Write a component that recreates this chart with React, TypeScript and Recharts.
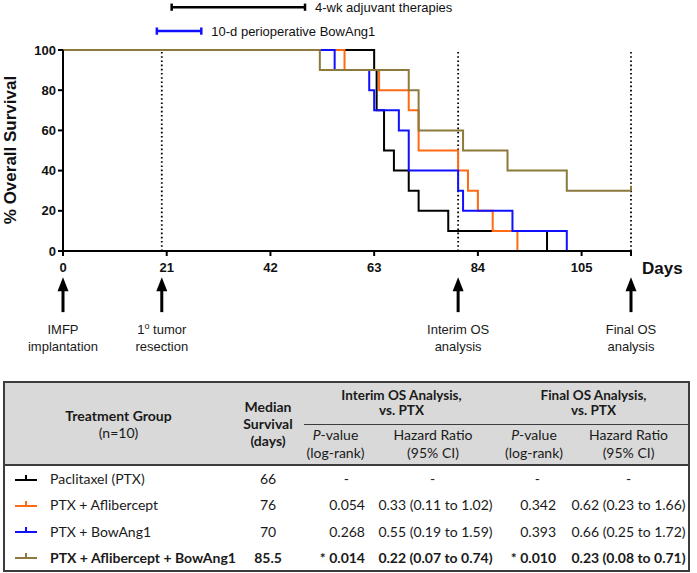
import { LineChart, Line, XAxis, YAxis, ReferenceLine, ReferenceDot } from "recharts";

// Kaplan-Meier steps (day, % surviving)
const PTX_DAYS = [0, 63, 63.5, 65, 67, 70, 72, 78, 98];
const PTX_SURV = [100, 90, 70, 50, 40, 30, 20, 10, 0];
const AFL_DAYS = [0, 57, 64, 70, 72, 80, 82, 84, 87, 92];
const AFL_SURV = [100, 90, 80, 70, 50, 40, 30, 20, 10, 0];
const BOW_DAYS = [0, 55, 62, 63, 68, 70, 80, 81, 91, 102];
const BOW_SURV = [100, 90, 80, 70, 60, 40, 30, 20, 10, 0];
const COMBO_DAYS = [0, 52, 70, 72, 81, 90, 102, 115];
const COMBO_SURV = [100, 90, 80, 60, 50, 40, 30, 30];

const X_TICKS = [0, 21, 42, 63, 84, 105, 115];
const Y_TICKS = [0, 20, 40, 60, 80, 100];

const DOTTED_DAYS = [20, 80, 115];
const EVENT_DAYS = [0, 20, 80, 115];
const EVENT_LABELS = [
  ["IMFP", "implantation"],
  ["1^o tumor", "resection"],
  ["Interim OS", "analysis"],
  ["Final OS", "analysis"],
];

const ADJUVANT = [22, 49];
const PERIOP = [19, 28];

// table
const GROUPS = ["Paclitaxel (PTX)", "PTX + Aflibercept", "PTX + BowAng1", "PTX + Aflibercept + BowAng1"];
const MEDIANS = ["66", "76", "70", "85.5"];
const INTERIM_P = ["-", "0.054", "0.268", "* 0.014"];
const INTERIM_HR = ["-", "0.33 (0.11 to 1.02)", "0.55 (0.19 to 1.59)", "0.22 (0.07 to 0.74)"];
const FINAL_P = ["-", "0.342", "0.393", "* 0.010"];
const FINAL_HR = ["-", "0.62 (0.23 to 1.66)", "0.66 (0.25 to 1.72)", "0.23 (0.08 to 0.71)"];

const COLORS = ["#000000", "#FF6A13", "#1010FF", "#8C7A3C"];

const AXIS_FONT = "'Liberation Sans', Arial, sans-serif";
const TABLE_FONT = "Lato, 'Open Sans', sans-serif";

const toRows = (days: number[], surv: number[]) => days.map((day, i) => ({ day, s: surv[i] }));

const SERIES = [
  { name: "ptx", data: toRows(PTX_DAYS, PTX_SURV) },
  { name: "afl", data: toRows(AFL_DAYS, AFL_SURV) },
  { name: "bow", data: toRows(BOW_DAYS, BOW_SURV) },
  { name: "combo", data: toRows(COMBO_DAYS, COMBO_SURV) },
];

function LabelLine({ x, y, text }: { x: number; y: number; text: string }) {
  if (text.includes("^o")) {
    const [a, b] = text.split("^o");
    return (
      <text x={x} y={y} textAnchor="middle" fontSize={13} fill="#1a1a1a" fontFamily={AXIS_FONT}>
        {a}
        <tspan fontSize={9} dy={-5}>o</tspan>
        <tspan dy={5}>{b}</tspan>
      </text>
    );
  }
  return (
    <text x={x} y={y} textAnchor="middle" fontSize={13} fill="#1a1a1a" fontFamily={AXIS_FONT}>
      {text}
    </text>
  );
}

function eventShape(lines: string[]) {
  return (props: any) => {
    const { cx, cy } = props;
    return (
      <g>
        <polygon points={`${cx},${cy} ${cx - 5.5},${cy + 14} ${cx + 5.5},${cy + 14}`} fill="#000" />
        <rect x={cx - 1.5} y={cy + 12} width={3} height={23} fill="#000" />
        <LabelLine x={cx} y={cy + 57} text={lines[0]} />
        <LabelLine x={cx} y={cy + 74} text={lines[1]} />
      </g>
    );
  };
}

function censorDot(color: string, lastIndex: number) {
  return (props: any) => {
    const { cx, cy, index } = props;
    if (index !== lastIndex) return <g key={`d${index}`} />;
    return <line key={`d${index}`} x1={cx} x2={cx} y1={cy - 5} y2={cy} stroke={color} strokeWidth={2} />;
  };
}

function YLabel() {
  return (
    <text
      transform="translate(16,150) rotate(-90)"
      textAnchor="middle"
      fontSize={17}
      fontWeight="bold"
      fill="#111"
      fontFamily={AXIS_FONT}
    >
      % Overall Survival
    </text>
  );
}

function XLabel() {
  return (
    <text x={642} y={274} fontSize={17} fontWeight="bold" fill="#111" fontFamily={AXIS_FONT}>
      Days
    </text>
  );
}

function LegendIcon({ color }: { color: string }) {
  return (
    <svg width={24} height={10} style={{ position: "absolute", left: 10, top: "50%", marginTop: -6 }}>
      <line x1={0} x2={22} y1={7} y2={7} stroke={color} strokeWidth={2} />
      <line x1={11} x2={11} y1={2} y2={7} stroke={color} strokeWidth={2} />
    </svg>
  );
}

const border = "2px solid #3c3c3c";

export default function App() {
  const topBars = [
    { range: ADJUVANT, y: 121.3, color: "#000", text: "4-wk adjuvant therapies" },
    { range: PERIOP, y: 109.4, color: "#1010FF", text: "10-d perioperative BowAng1" },
  ];
  return (
    <div style={{ position: "relative", width: 697, height: 573, background: "#fff" }}>
      <style>{`body{margin:0}`}</style>
      <LineChart
        width={697}
        height={375}
        margin={{ top: 50, right: 66, left: 13, bottom: 94 }}
        style={{ fontFamily: AXIS_FONT }}
      >
        <XAxis
          type="number"
          dataKey="day"
          domain={[0, 115]}
          ticks={X_TICKS}
          tickFormatter={(v) => (v === 115 ? "" : String(v))}
          height={30}
          tickSize={5}
          tickMargin={7}
          axisLine={{ stroke: "#000", strokeWidth: 2 }}
          tickLine={{ stroke: "#000", strokeWidth: 2 }}
          tick={{ fill: "#111", fontSize: 13, fontWeight: "bold", fontFamily: AXIS_FONT }}
          label={<XLabel />}
        />
        <YAxis
          type="number"
          domain={[0, 100]}
          ticks={Y_TICKS}
          width={50}
          tickSize={5}
          tickMargin={2}
          axisLine={{ stroke: "#000", strokeWidth: 2 }}
          tickLine={{ stroke: "#000", strokeWidth: 2 }}
          tick={{ fill: "#111", fontSize: 13, fontWeight: "bold", fontFamily: AXIS_FONT }}
          label={<YLabel />}
        />
        {DOTTED_DAYS.map((d) => (
          <ReferenceLine key={`v${d}`} x={d} stroke="#000" strokeWidth={1.8} strokeDasharray="1.6 2.6" />
        ))}
        {SERIES.map((s, i) => (
          <Line
            key={s.name}
            data={s.data}
            dataKey="s"
            type="stepAfter"
            stroke={COLORS[i]}
            strokeWidth={2}
            dot={censorDot(COLORS[i], s.data[s.data.length - 1].s > 0 ? s.data.length - 1 : -1)}
            activeDot={false}
            isAnimationActive={false}
          />
        ))}
        {topBars.map((b) => [
          <ReferenceLine
            key={`${b.text}-bar`}
            ifOverflow="visible"
            segment={[{ x: b.range[0], y: b.y }, { x: b.range[1], y: b.y }]}
            stroke={b.color}
            strokeWidth={2.5}
            label={{ value: b.text, position: "right", offset: 10, fill: "#111", fontSize: 13, fontFamily: AXIS_FONT }}
          />,
          ...b.range.map((d) => (
            <ReferenceLine
              key={`${b.text}-cap${d}`}
              ifOverflow="visible"
              segment={[{ x: d, y: b.y - 1.8 }, { x: d, y: b.y + 1.8 }]}
              stroke={b.color}
              strokeWidth={2.5}
            />
          )),
        ])}
        {EVENT_DAYS.map((d, i) => (
          <ReferenceDot key={`e${d}`} x={d} y={-13} ifOverflow="visible" shape={eventShape(EVENT_LABELS[i])} />
        ))}
      </LineChart>

      <div
        style={{
          position: "absolute",
          left: 3,
          top: 381,
          width: 685,
          fontFamily: TABLE_FONT,
          fontSize: 13.5,
          color: "#1a1a1a",
        }}
      >
        <table
          style={{
            borderCollapse: "collapse",
            tableLayout: "fixed",
            width: 685,
            border,
          }}
        >
          <colgroup>
            <col style={{ width: 228 }} />
            <col style={{ width: 72 }} />
            <col style={{ width: 63 }} />
            <col style={{ width: 132 }} />
            <col style={{ width: 70 }} />
            <col style={{ width: 120 }} />
          </colgroup>
          <thead style={{ background: "#D9D9D9" }}>
            <tr style={{ height: 42 }}>
              <th rowSpan={2} style={{ borderBottom: border, textAlign: "center", padding: 0, lineHeight: "17px", fontSize: 14 }}>
                Treatment Group
                <br />
                <span style={{ fontWeight: "normal" }}>(n=10)</span>
              </th>
              <th rowSpan={2} style={{ borderBottom: border, textAlign: "center", padding: 0, lineHeight: "17px", fontSize: 14 }}>
                Median
                <br />
                Survival
                <br />
                (days)
              </th>
              <th colSpan={2} style={{ borderBottom: "1.5px solid #3c3c3c", padding: 0, lineHeight: "15px" }}>
                Interim OS Analysis,
                <br />
                vs. PTX
              </th>
              <th colSpan={2} style={{ borderBottom: "1.5px solid #3c3c3c", padding: 0, lineHeight: "15px" }}>
                Final OS Analysis,
                <br />
                vs. PTX
              </th>
            </tr>
            <tr style={{ height: 41 }}>
              {["p", "hr", "p", "hr"].map((k, i) => (
                <th key={i} style={{ borderBottom: border, fontWeight: "normal", padding: 0, lineHeight: "18px", fontSize: 14 }}>
                  {k === "p" ? (
                    <>
                      <i>P</i>-value
                      <br />
                      (log-rank)
                    </>
                  ) : (
                    <>
                      Hazard Ratio
                      <br />
                      (95% CI)
                    </>
                  )}
                </th>
              ))}
            </tr>
          </thead>
          <tbody style={{ fontSize: 14 }}>
            {GROUPS.map((g, i) => {
              const bold = i === GROUPS.length - 1;
              const w = bold ? "bold" : "normal";
              const dash = INTERIM_P[i] === "-";
              return (
                <tr key={g} style={{ height: 26.5, fontWeight: w }}>
                  <td style={{ position: "relative", paddingLeft: 45, whiteSpace: "nowrap" }}>
                    <LegendIcon color={COLORS[i]} />
                    {g}
                  </td>
                  <td style={{ textAlign: "center" }}>{MEDIANS[i]}</td>
                  <td style={{ textAlign: "right", paddingRight: dash ? 18 : 2, whiteSpace: "nowrap" }}>{INTERIM_P[i]}</td>
                  <td style={{ textAlign: "center", paddingLeft: dash ? 0 : 6, whiteSpace: "nowrap" }}>{INTERIM_HR[i]}</td>
                  <td style={{ textAlign: "right", paddingRight: dash ? 29 : 13, whiteSpace: "nowrap" }}>{FINAL_P[i]}</td>
                  <td style={{ textAlign: "center", whiteSpace: "nowrap" }}>{FINAL_HR[i]}</td>
                </tr>
              );
            })}
          </tbody>
        </table>
      </div>
    </div>
  );
}
